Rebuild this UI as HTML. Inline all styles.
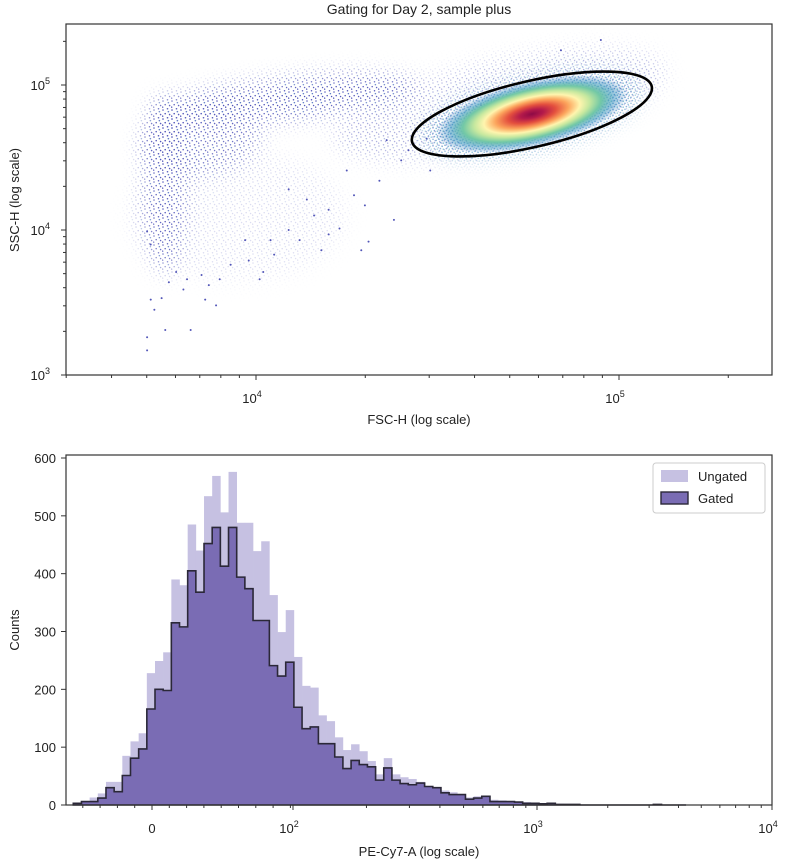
<!DOCTYPE html>
<html><head><meta charset="utf-8"><style>
html,body{margin:0;padding:0;background:#fff;}
svg{display:block;font-family:"Liberation Sans",sans-serif;}
</style></head><body>
<svg id="fig" width="786" height="861" viewBox="0 0 786 861" xmlns="http://www.w3.org/2000/svg">
<defs>
  <pattern id="dots" width="9" height="9" patternUnits="userSpaceOnUse">
    <circle cx="1" cy="2" r="0.75" fill="#4c50b8"/>
    <circle cx="5.5" cy="0.8" r="0.75" fill="#4c50b8"/>
    <circle cx="3.2" cy="5.6" r="0.75" fill="#4c50b8"/>
    <circle cx="7.6" cy="6.5" r="0.75" fill="#4c50b8"/>
    <circle cx="6.4" cy="3.6" r="0.75" fill="#5a78c4"/>
    <circle cx="0.6" cy="8.1" r="0.75" fill="#4c50b8"/>
  </pattern>
  <pattern id="dotsB" width="6" height="6" patternUnits="userSpaceOnUse">
    <circle cx="1" cy="1.3" r="0.8" fill="#3f86c2"/>
    <circle cx="4.2" cy="2.4" r="0.8" fill="#4a9ac4"/>
    <circle cx="2.4" cy="4.6" r="0.8" fill="#3f7fc0"/>
    <circle cx="5.3" cy="5.2" r="0.8" fill="#5aaec0"/>
  </pattern>
  <filter id="blur8" x="-50%" y="-50%" width="200%" height="200%"><feGaussianBlur stdDeviation="10"/></filter>
  <radialGradient id="core" cx="0.5" cy="0.5" r="0.5">
    <stop offset="0" stop-color="#8e0a46"/>
    <stop offset="0.12" stop-color="#b41a4a"/>
    <stop offset="0.25" stop-color="#e4503e"/>
    <stop offset="0.38" stop-color="#fca55d"/>
    <stop offset="0.5" stop-color="#fff5ae"/>
    <stop offset="0.6" stop-color="#c6e89f"/>
    <stop offset="0.72" stop-color="#72c8a6"/>
    <stop offset="0.85" stop-color="#4a9fc4" stop-opacity="0.6"/>
    <stop offset="1" stop-color="#3c7ac4" stop-opacity="0"/>
  </radialGradient>
  <clipPath id="clipTop"><rect x="66" y="24" width="706" height="351"/></clipPath>
</defs>
<text x="419" y="14" font-size="14" text-anchor="middle" fill="#222">Gating for Day 2, sample plus</text>
<g id="topPlot"></g>
<g id="bottomPlot"></g>
</svg>
<script>
// ---------- Scatter data (log10 units) ----------
var cloudX  = [4.08, 3.75, 3.85, 4.67, 3.95];
var cloudY  = [4.90, 4.31, 4.62, 4.86, 4.10];
var cloudSX = [0.37, 0.06, 0.17, 0.47, 0.30];
var cloudSY = [0.15, 0.62, 0.24, 0.31, 0.45];
var cloudRot = [-6, 0, -5, -12, 0];
var cloudOpacity = [1, 0.9, 0.75, 0.45, 0.2];
var pointLX = [3.70,3.71,3.71,3.70,3.70,3.72,3.74,3.75,3.76,3.78,3.80,3.81,3.82,3.85,3.86,3.87,3.89,3.90,3.93,3.97,3.98,4.01,4.02,4.04,4.05,4.09,4.12,4.14,4.16,4.18,4.20,4.23,4.27,4.29,4.31,4.09,4.20,4.25,4.30,4.34,4.38,4.40,4.36,4.42,4.47,4.48,4.62,4.84,4.95];
var pointLY = [3.99,3.90,3.52,3.26,3.17,3.45,3.53,3.31,3.64,3.71,3.59,3.66,3.31,3.69,3.52,3.62,3.48,3.66,3.76,3.93,3.79,3.66,3.71,3.93,3.83,4.00,3.93,4.21,4.10,3.86,3.97,4.01,4.24,3.86,3.92,4.28,4.14,4.41,4.17,4.34,4.07,4.48,4.62,4.55,4.63,4.41,4.86,5.24,5.31];
var gateCenter = [4.76, 4.80];
var xTickLabelsTop = ["10","10"]; var xTickExpTop = ["4","5"]; var xTickValsTop = [4,5];
var yTickValsTop = [3,4,5]; var yTickExpTop = ["3","4","5"];

// ---------- Histogram data ----------
var ungatedCounts = [3,7,13,20,40,40,85,110,124,228,249,264,390,380,485,440,534,569,506,576,488,488,439,456,363,299,337,256,206,203,155,145,117,95,105,93,76,53,81,53,48,45,40,33,26,25,22,14,13,15,9,9,8,7,6,5,4,3,2,2,1,1,1,0,0,0,0,1,0,0,0,0,0,0,1];
var gatedCounts   = [3,6,6,12,30,23,51,81,97,166,200,198,315,308,405,368,452,480,413,480,394,374,319,319,241,223,247,169,132,135,106,106,83,63,77,70,66,43,64,43,37,35,38,32,30,21,18,18,10,12,15,6,6,6,5,3,3,2,3,1,1,1,0,0,0,0,0,0,0,0,0,1,0,0,0];
var yTicksHist = [0,100,200,300,400,500,600];
var legendLabels = ["Ungated","Gated"];

var NS="http://www.w3.org/2000/svg";
function mk(tag, attrs, parent){var e=document.createElementNS(NS,tag);for(var k in attrs)e.setAttribute(k,attrs[k]);if(parent)parent.appendChild(e);return e;}

// ---------- Top axes ----------
var T={l:66,r:772,t:24,b:375};
function sx(lx){return 256+(lx-4)*363;}
function sy(ly){return 85-(ly-5)*145;}
var topG=document.getElementById('topPlot');
var defsEl=document.querySelector('defs');
var clouds=mk('g',{'clip-path':'url(#clipTop)'},topG);


for(var i=0;i<cloudX.length;i++){
  var cx=sx(cloudX[i]), cy=sy(cloudY[i]), rx=cloudSX[i]*363, ry=cloudSY[i]*145;
  var m=mk('mask',{id:'cm'+i,maskUnits:'userSpaceOnUse',x:0,y:0,width:786,height:861},defsEl);
  mk('ellipse',{cx:cx,cy:cy,rx:rx,ry:ry,fill:'#fff','fill-opacity':cloudOpacity[i],filter:'url(#blur8)',transform:'rotate('+cloudRot[i]+' '+cx+' '+cy+')'},m);
  var c=mk('rect',{x:66,y:24,width:706,height:351,fill:'url(#dots)',mask:'url(#cm'+i+')'},clouds);
  
  
}
for(var i=0;i<pointLX.length;i++){
  var p=mk('circle',{cx:sx(pointLX[i]),cy:sy(pointLY[i]),r:1,fill:'#5256b8'},clouds);
  
  
}
var gx=sx(gateCenter[0]), gy=sy(gateCenter[1]);
var bm=mk('mask',{id:'gm',maskUnits:'userSpaceOnUse',x:0,y:0,width:786,height:861},defsEl);
mk('ellipse',{cx:gx,cy:gy,rx:112,ry:36,fill:'#fff','fill-opacity':0.85,filter:'url(#blur8)',transform:'rotate(-13 '+gx+' '+gy+')'},bm);
var bdots=mk('rect',{x:66,y:24,width:706,height:351,fill:'url(#dotsB)',mask:'url(#gm)'},clouds);


var core=mk('ellipse',{cx:gx,cy:gy,rx:98,ry:33,fill:'url(#core)',transform:'rotate(-13 '+gx+' '+gy+')'},clouds);


var gate=mk('ellipse',{cx:gx,cy:gy,rx:123,ry:33,fill:'none',stroke:'#000','stroke-width':2.6,transform:'rotate(-13 '+gx+' '+gy+')'},topG);


var fr=mk('rect',{x:T.l,y:T.t,width:T.r-T.l,height:T.b-T.t,fill:'none',stroke:'#333','stroke-width':1.2},topG);


for(var d=3;d<=5;d++){for(var k=1;k<10;k++){var lx=d+Math.log10(k);var x=sx(lx);if(x<T.l||x>T.r)continue;
  var major=(k==1);mk('line',{x1:x,x2:x,y1:T.b,y2:T.b+(major?5:3),stroke:'#333','stroke-width':1},topG);}}
for(var i=0;i<xTickValsTop.length;i++){
  var t=mk('text',{x:sx(xTickValsTop[i])-4,y:403,'font-size':13,'text-anchor':'middle',fill:'#222'},topG);
  t.textContent=xTickLabelsTop[i];
  var s=mk('tspan',{dy:-6,'font-size':9},t);s.textContent=xTickExpTop[i];
  
  
}
for(var d=2;d<=5;d++){for(var k=1;k<10;k++){var ly=d+Math.log10(k);var y=sy(ly);if(y<T.t||y>T.b+0.5)continue;
  var major=(k==1);mk('line',{x1:T.l,x2:T.l-(major?5:3),y1:y,y2:y,stroke:'#333','stroke-width':1},topG);}}
for(var i=0;i<yTickValsTop.length;i++){
  var t=mk('text',{x:50,y:sy(yTickValsTop[i])+5,'font-size':13,'text-anchor':'end',fill:'#222'},topG);
  t.textContent="10";
  var s=mk('tspan',{dy:-6,'font-size':9},t);s.textContent=yTickExpTop[i];
  
  
}
var xl=mk('text',{x:419,y:424,'font-size':13,'text-anchor':'middle',fill:'#222'},topG);xl.textContent="FSC-H (log scale)";


var yl=mk('text',{x:0,y:0,'font-size':13,'text-anchor':'middle',fill:'#222',transform:'translate(19,200) rotate(-90)'},topG);yl.textContent="SSC-H (log scale)";



// ---------- Bottom axes ----------
var B={l:66,r:772,t:455,b:805};
var bin0=73.3, binW=8.17;
function hy(c){return B.b-c*(347/600);}
function bx(i){return bin0+i*binW;}
var botG=document.getElementById('bottomPlot');
function stepPath(counts){var d='M'+bx(0)+','+B.b;for(var i=0;i<counts.length;i++){d+=' L'+bx(i)+','+hy(counts[i])+' L'+bx(i+1)+','+hy(counts[i]);}d+=' L'+bx(counts.length)+','+B.b+' Z';return d;}
for(var i=0;i<ungatedCounts.length;i++){
  var r=mk('rect',{x:bx(i),y:hy(ungatedCounts[i]),width:binW+0.3,height:B.b-hy(ungatedCounts[i]),fill:'#c6c1e2'},botG);
  
  
}
var gp=mk('path',{d:stepPath(gatedCounts),fill:'#7a6cb4',stroke:'#2b2838','stroke-width':1.6,'stroke-linejoin':'miter'},botG);


var fr2=mk('rect',{x:B.l,y:B.t,width:B.r-B.l,height:B.b-B.t,fill:'none',stroke:'#333','stroke-width':1.2},botG);


for(var i=0;i<yTicksHist.length;i++){var y=hy(yTicksHist[i]);
  mk('line',{x1:B.l,x2:B.l-5,y1:y,y2:y,stroke:'#333'},botG);
  var t=mk('text',{x:56,y:y+5,'font-size':13,'text-anchor':'end',fill:'#222'},botG);t.textContent=yTicksHist[i];
  
  
}
for(var k=-5;k<=8;k++){var x=152+k*17.3;if(x<B.l)continue;mk('line',{x1:x,x2:x,y1:B.b,y2:B.b+(k==0?5:3),stroke:'#333'},botG);}
function lpx(lv){return lv<=3?293+(lv-2)*244:537+(lv-3)*235;}
for(var d=2;d<=4;d++){for(var k=1;k<10;k++){if(d==4&&k>1)break;var x=lpx(d+Math.log10(k));mk('line',{x1:x,x2:x,y1:B.b,y2:B.b+(k==1?5:3),stroke:'#333'},botG);}}
var zl=mk('text',{x:152,y:833,'font-size':13,'text-anchor':'middle',fill:'#222'},botG);zl.textContent="0";


var xexp=["2","3","4"];
for(var i=0;i<3;i++){var t=mk('text',{x:lpx(i+2)-4,y:833,'font-size':13,'text-anchor':'middle',fill:'#222'},botG);t.textContent="10";
  var s=mk('tspan',{dy:-6,'font-size':9},t);s.textContent=xexp[i];
  
  }
var xl2=mk('text',{x:419,y:856,'font-size':13,'text-anchor':'middle',fill:'#222'},botG);xl2.textContent="PE-Cy7-A (log scale)";


var yl2=mk('text',{x:0,y:0,'font-size':13,'text-anchor':'middle',fill:'#222',transform:'translate(19,630) rotate(-90)'},botG);yl2.textContent="Counts";


var lg=mk('g',{},botG);


mk('rect',{x:653,y:463,width:112,height:50,rx:3,fill:'#fff',stroke:'#ccc'},lg);
var sw1=mk('rect',{x:661,y:470,width:27,height:12,fill:'#c6c1e2'},lg);


var sw2=mk('rect',{x:661,y:492,width:27,height:12,fill:'#7a6cb4',stroke:'#2b2838','stroke-width':1.4},lg);


for(var i=0;i<legendLabels.length;i++){var t=mk('text',{x:698,y:481+i*22,'font-size':13,fill:'#222'},lg);t.textContent=legendLabels[i];
  
  }
</script>
</body></html>
